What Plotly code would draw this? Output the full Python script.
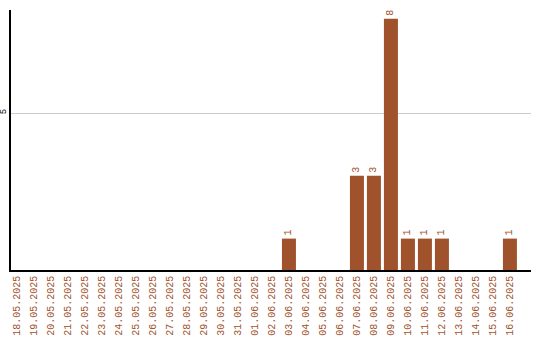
import plotly.graph_objects as go

dates = ["18.05.2025","19.05.2025","20.05.2025","21.05.2025","22.05.2025","23.05.2025",
         "24.05.2025","25.05.2025","26.05.2025","27.05.2025","28.05.2025","29.05.2025",
         "30.05.2025","31.05.2025","01.06.2025","02.06.2025","03.06.2025","04.06.2025",
         "05.06.2025","06.06.2025","07.06.2025","08.06.2025","09.06.2025","10.06.2025",
         "11.06.2025","12.06.2025","13.06.2025","14.06.2025","15.06.2025","16.06.2025"]
counts = [0,0,0,0,0,0,0,0,0,0,0,0,0,0,0,0,1,0,0,0,3,3,8,1,1,1,0,0,0,1]

color = "#A0522D"
labels = [str(c) if c > 0 else "" for c in counts]

fig = go.Figure(go.Bar(
    x=dates, y=counts, marker_color=color, marker_line_width=0,
    text=labels, textposition="outside", textangle=-90, cliponaxis=False,
    textfont=dict(family="Liberation Mono", size=10, color=color),
))
fig.update_layout(
    width=540, height=340, margin=dict(l=11, r=9, t=10, b=70),
    plot_bgcolor="white", paper_bgcolor="white", bargap=0.176, showlegend=False,
    xaxis=dict(type="category", range=[-0.35, 30.24], tickangle=-90, showline=True,
               linecolor="black", linewidth=1.5, ticks="", automargin=False,
               tickfont=dict(family="Liberation Mono", size=10, color=color),
               showgrid=False),
    yaxis=dict(range=[0, 8.28], tickvals=[5], ticktext=["5"], tickangle=-90,
               showline=True, linecolor="black", linewidth=1.5, gridcolor="#cccccc",
               zeroline=False, ticks="", automargin=False,
               tickfont=dict(family="Liberation Mono", size=9, color="black")),
)
fig.write_html("out.html")
